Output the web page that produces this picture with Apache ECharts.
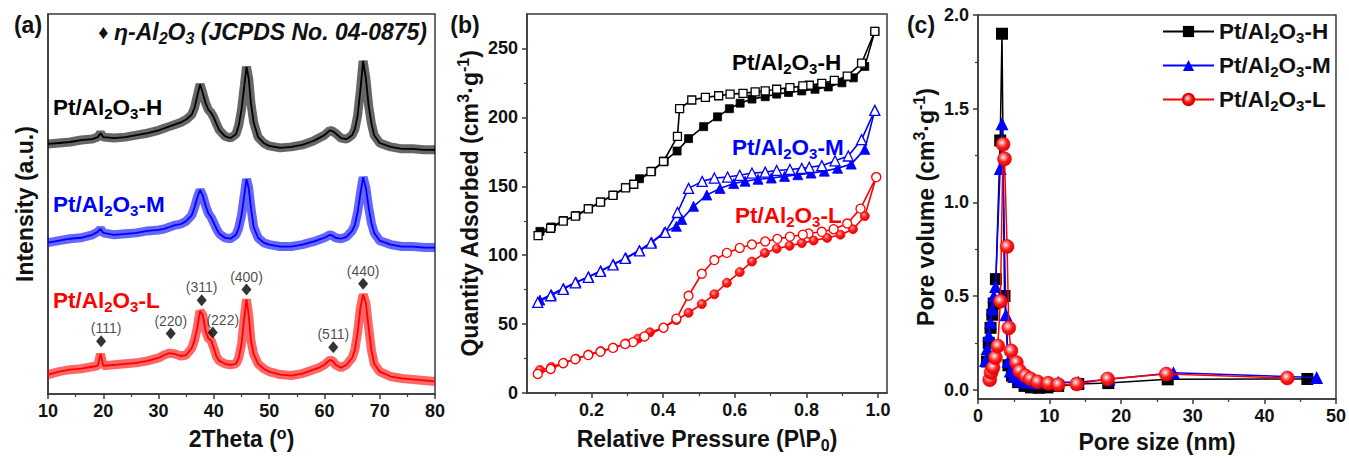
<!DOCTYPE html>
<html><head><meta charset="utf-8">
<script src="https://cdn.jsdelivr.net/npm/echarts@6/dist/echarts.min.js"></script>
<style>html,body{margin:0;padding:0;background:#fff}#c{width:1349px;height:458px}</style>
</head><body><div id="c"></div>
<script>
// ================= DATA =================
// (a) XRD patterns, intensity in arbitrary units (stacked offsets as plotted)
const xrdTheta = [10,12,14,16,18,19,19.5,20,22,24,26,28,30,31,32,33,34,35,36,36.5,37,37.5,38,38.5,39,39.5,40,40.5,41,42,43,44,44.5,45,45.5,45.9,46.3,46.7,47.2,48,49,50,52,54,56,58,59,60,61,61.5,62,63,64,65,65.5,66,66.5,67,67.5,68,68.5,69,70,72,74,76,78,80];
const xrdH = [256,257,258,260,261,263,267,263,262,263,265,267,270,272,274,276,278,281,286,293,305,317,308,298,291,288,283,276,270,264,262,266,275,291,315,335,323,298,278,263,257,254,252,253,255,259,262,265,270,269,267,262,261,265,271,285,311,341,323,295,277,265,257,253,251,251,250,250];
const xrdM = [155,157,159,160,163,166,169,165,163,164,165,167,168,169,171,173,174,177,183,191,201,209,203,193,185,181,175,169,164,160,159,163,170,183,203,220,211,191,171,160,155,153,151,151,153,156,158,160,163,162,160,159,161,167,173,186,205,222,211,191,175,165,157,153,151,151,150,150];
const xrdL = [20,23,25,26,28,29,41,29,30,31,32,34,37,40,42,41,39,40,47,55,68,85,81,65,57,55,47,38,34,31,30,31,37,51,78,97,81,55,41,31,26,23,20,19,21,25,27,30,35,34,30,27,30,37,45,63,88,102,93,68,45,31,23,18,16,15,14,13];
const hklTheta = [19.6, 32.2, 37.8, 39.8, 45.9, 61.6, 67.0];
const hklHeight = [54, 62, 96, 63, 107, 48, 113];
const hklLabels = ['(111)','(220)','(311)','(222)','(400)','(511)','(440)'];
const xrdTicks = [10,20,30,40,50,60,70,80];

// (b) N2 isotherms: relative pressure / quantity adsorbed
const hAdsP = [0.056,0.088,0.122,0.157,0.192,0.226,0.261,0.296,0.334,0.368,0.403,0.439,0.471,0.513,0.552,0.585,0.615,0.648,0.685,0.717,0.750,0.787,0.824,0.861,0.899,0.931,0.963,0.991];
const hAdsQ = [117.3,120.5,125.2,128.8,133.9,138.7,143.7,149.2,155.5,161.0,168.2,175.6,184.6,193.3,200.4,206.3,210.3,213.3,215.0,216.9,218.1,219.2,220.4,222.1,225.1,228.7,237.0,262.4];
const hDesP = [0.991,0.954,0.914,0.878,0.843,0.808,0.790,0.754,0.717,0.685,0.657,0.623,0.587,0.555,0.518,0.480,0.446,0.440,0.401,0.366,0.318,0.295,0.260,0.225,0.191,0.155,0.121,0.086,0.051];
const hDesQ = [262.4,239.3,229.9,226.8,224.7,223.3,222.8,221.6,220.4,219.2,218.5,217.4,216.9,215.7,214.5,212.6,206.3,186.2,168.0,160.7,151.5,148.9,143.5,138.5,133.6,128.4,124.8,119.6,114.2];
const mAdsP = [0.056,0.088,0.122,0.157,0.192,0.226,0.261,0.296,0.334,0.368,0.403,0.437,0.452,0.485,0.522,0.559,0.597,0.629,0.665,0.702,0.739,0.776,0.813,0.850,0.887,0.925,0.963,0.991];
const mAdsQ = [67.5,71.5,76.0,80.5,84.5,88.8,93.5,98.2,103.6,109.5,116.5,121.0,126.0,135.5,143.7,148.5,152.0,153.7,155.1,156.0,157.2,158.4,159.6,161.0,163.1,166.1,176.8,205.1];
const mDesP = [0.991,0.954,0.917,0.880,0.843,0.808,0.787,0.754,0.717,0.685,0.648,0.614,0.580,0.543,0.509,0.471,0.440,0.406,0.366,0.334,0.294,0.260,0.225,0.191,0.155,0.121,0.086,0.050];
const mDesQ = [205.1,183.9,172.0,168.5,165.0,163.8,163.0,162.2,161.5,160.3,159.6,158.0,156.7,156.0,153.6,148.5,131.0,116.6,108.8,103.1,97.7,93.0,88.3,84.0,80.0,75.3,70.6,65.8];
const lAdsP = [0.056,0.088,0.122,0.157,0.192,0.226,0.261,0.296,0.330,0.363,0.401,0.437,0.471,0.508,0.543,0.578,0.614,0.648,0.684,0.717,0.753,0.787,0.820,0.858,0.895,0.930,0.963,0.995];
const lAdsQ = [16.8,19.0,22.0,25.0,28.0,30.5,33.0,36.0,39.5,44.1,47.4,52.9,58.3,64.6,71.7,80.0,87.8,95.4,101.7,104.8,106.9,108.8,110.7,112.6,114.9,118.9,128.4,156.7];
const lDesP = [0.995,0.951,0.914,0.876,0.843,0.806,0.790,0.754,0.719,0.685,0.648,0.614,0.578,0.543,0.508,0.471,0.437,0.401,0.348,0.316,0.294,0.260,0.225,0.191,0.155,0.121,0.086,0.050];
const lDesQ = [156.7,133.8,123.0,118.9,117.0,115.8,114.9,113.5,111.9,110.0,107.8,105.3,101.7,96.5,86.6,70.6,54.0,47.4,41.1,37.0,35.6,32.8,30.0,27.6,24.6,21.7,17.5,13.9];
const isoPTicks = [0.2,0.4,0.6,0.8,1.0];
const isoPMinor = [0.1,0.3,0.5,0.7,0.9];
const isoQTicks = [0,50,100,150,200,250];
const isoQMinor = [25,75,125,175,225];

// (c) pore size distribution
const hPoreD = [1.25,1.5,1.75,2.0,2.2,2.5,3.1,3.35,3.7,4.25,4.75,5.6,6.5,7.4,8.5,9.7,11.2,14.0,18.2,26.5,46.0];
const hPoreV = [0.15,0.25,0.33,0.40,0.46,0.59,1.33,1.90,0.50,0.13,0.075,0.04,0.02,0.012,0.01,0.012,0.02,0.03,0.035,0.055,0.057];
const mPoreD = [1.05,1.28,1.5,1.75,1.97,2.2,2.45,3.1,3.35,3.9,4.2,4.5,5.0,5.8,6.8,8.0,9.9,11.2,14.0,18.3,27.3,47.3];
const mPoreV = [0.155,0.22,0.29,0.36,0.43,0.50,0.55,1.18,1.42,0.40,0.15,0.10,0.07,0.05,0.04,0.035,0.04,0.04,0.04,0.055,0.09,0.065];
const lPoreD = [1.64,1.83,2.1,2.43,2.76,3.13,3.5,3.7,4.06,4.3,4.6,5.35,5.8,6.6,7.3,8.3,9.8,11.2,13.8,18.1,26.3,43.2];
const lPoreV = [0.053,0.092,0.118,0.171,0.233,0.472,1.31,1.232,0.764,0.33,0.207,0.145,0.10,0.074,0.058,0.042,0.034,0.027,0.03,0.057,0.083,0.062];
const poreDTicks = [0,10,20,30,40,50];
const poreDMinor = [5,15,25,35,45];
const poreVTicks = [0,0.5,1.0,1.5,2.0];
const poreVMinor = [0.25,0.75,1.25,1.75];

const sampleNames = ['Pt/Al2O3-H','Pt/Al2O3-M','Pt/Al2O3-L'];

// ================= STYLE / BUILD =================
const FONT = '"Liberation Sans", Arial, Helvetica, sans-serif';
const AX = '#3a3a3a';
const TXT = '#111';
const BLACK = '#000000', BLUE = '#0000ff', RED = '#ff0000';
const zip = (a, b) => a.map((v, i) => [v, b[i]]);

function rich(size, color, italic) {
  const base = {fontWeight:'bold', fontFamily:FONT, color:color, fill:color, fontStyle: italic ? 'italic' : 'normal'};
  const s = Math.round(size * 0.68);
  return {
    n: Object.assign({}, base, {fontSize:size, lineHeight:size}),
    sub: Object.assign({}, base, {fontSize:s, lineHeight:s, padding:[Math.round(size*0.55),0,0,0]}),
    sup: Object.assign({}, base, {fontSize:s, lineHeight:s, padding:[0,0,Math.round(size*0.5),0]}),
    d: Object.assign({}, base, {fontSize:Math.round(size*0.85), lineHeight:size, fontStyle:'normal'})
  };
}
// "Pt/Al2O3-H" -> rich string with subscripts for digits
function subName(s) {
  return s.split(/(\d)/).filter(t => t !== '').map(t => /^\d$/.test(t) ? '{sub|' + t + '}' : '{n|' + t + '}').join('');
}

const nameStyle = (sz) => ({fontSize:sz, fontWeight:'bold', fontFamily:FONT, color:TXT, rich: rich(sz, TXT)});
const labelStyle = {fontSize:18, fontWeight:'bold', fontFamily:FONT, color:TXT};

function xAxes(gi, min, max, majors, minors, fmt, name, gap) {
  return [{
    type:'value', gridIndex:gi, min:min, max:max, position:'bottom',
    axisLine:{show:true, onZero:false, lineStyle:{color:AX, width:1.5}},
    axisTick:{show:true, inside:false, length:5, customValues:majors, lineStyle:{color:AX, width:1.5}},
    axisLabel:Object.assign({customValues:majors, formatter:fmt, margin:8}, labelStyle),
    splitLine:{show:false},
    name:name, nameLocation:'middle', nameGap:gap, nameTextStyle:nameStyle(23)
  },{
    type:'value', gridIndex:gi, min:min, max:max, position:'bottom',
    axisLine:{show:false, onZero:false},
    axisTick:{show:true, inside:false, length:3, customValues:minors, lineStyle:{color:AX, width:1.2}},
    axisLabel:{show:false}, splitLine:{show:false}
  }];
}
function yAxes(gi, min, max, majors, minors, fmt, name, gap) {
  const withTicks = majors && majors.length;
  const arr = [{
    type:'value', gridIndex:gi, min:min, max:max, position:'left',
    axisLine:{show:true, onZero:false, lineStyle:{color:AX, width:1.5}},
    axisTick:withTicks ? {show:true, inside:false, length:5, customValues:majors, lineStyle:{color:AX, width:1.5}} : {show:false},
    axisLabel:withTicks ? Object.assign({customValues:majors, formatter:fmt, margin:9}, labelStyle) : {show:false},
    splitLine:{show:false},
    name:name, nameLocation:'middle', nameGap:gap, nameTextStyle:nameStyle(23)
  }];
  if (minors) arr.push({
    type:'value', gridIndex:gi, min:min, max:max, position:'left',
    axisLine:{show:false, onZero:false},
    axisTick:{show:true, inside:false, length:3, customValues:minors, lineStyle:{color:AX, width:1.2}},
    axisLabel:{show:false}, splitLine:{show:false}
  });
  return arr;
}

const gridBox = {show:true, borderColor:AX, borderWidth:1.5, backgroundColor:'transparent', containLabel:false};

const xAxis = [].concat(
  xAxes(0, 10, 80, xrdTicks, [15,25,35,45,55,65,75], v => String(v), '{n|2Theta (}{sup|o}{n|)}', 30),
  xAxes(1, 0.02, 1.025, isoPTicks, isoPMinor, v => v.toFixed(1), '{n|Relative Pressure (P\\P}{sub|0}{n|)}', 28),
  xAxes(2, 0, 50, poreDTicks, poreDMinor, v => String(v), '{n|Pore size (nm)}', 31)
);
const yAxis = [].concat(
  yAxes(0, 0, 389, null, null, null, '{n|Intensity (a.u.)}', 12),
  yAxes(1, 0, 275, isoQTicks, isoQMinor, v => String(v), '{n|Quantity Adsorbed (cm}{sup|3}{n|·g}{sup|-1}{n|)}', 46),
  yAxes(2, -0.05, 2.0, poreVTicks, poreVMinor, v => v.toFixed(1), '{n|Pore volume (cm}{sup|3}{n|·g}{sup|-1}{n|)}', 41)
);
// axis index map: grid0 -> x0,y0 ; grid1 -> x2,y1 ; grid2 -> x4,y3

const series = [];
// ---- (a) XRD: noisy band + core line ----
[[xrdH, BLACK], [xrdM, BLUE], [xrdL, RED]].forEach(([vals, col], i) => {
  const d = zip(xrdTheta, vals);
  series.push({type:'line', name:sampleNames[i] + ' XRD band', xAxisIndex:0, yAxisIndex:0, data:d,
    symbol:'none', silent:true, lineStyle:{color:col, width:9, opacity:0.6}, z:2});
  series.push({type:'line', name:sampleNames[i] + ' XRD', xAxisIndex:0, yAxisIndex:0, data:d,
    symbol:'none', lineStyle:{color:col, width:1.8}, z:3});
});
const hklOffset = {'(111)':[5,0], '(222)':[10,0]};
series.push({type:'scatter', name:'η-Al2O3 reflections', xAxisIndex:0, yAxisIndex:0,
  data: hklTheta.map((t, i) => ({value:[t, hklHeight[i]], name:hklLabels[i],
    label:{offset: hklOffset[hklLabels[i]] || [0,0]}})),
  symbol:'diamond', symbolSize:[10,12], itemStyle:{color:'#000'}, z:5,
  label:{show:true, position:'top', distance:0, formatter:p => p.name, fontSize:14, fontFamily:FONT, color:'#1a1a1a'}});

// ---- (b) isotherms ----
const ballB = new echarts.graphic.RadialGradient(0.4, 0.35, 0.7, [
  {offset:0, color:'#ffb0b0'}, {offset:0.45, color:'#ff2020'}, {offset:1, color:'#e00000'}]);
function iso(name, p, q, sym, size, col, filled, fillColor) {
  return {type:'line', name:name, xAxisIndex:2, yAxisIndex:1, data:zip(p, q),
    symbol:sym, symbolSize:size, showSymbol:true,
    lineStyle:{color:col, width:1.6},
    itemStyle: filled ? {color: fillColor || col, borderColor:col, borderWidth:0.8}
                      : {color:'#fff', borderColor:col, borderWidth:1.3},
    z: filled ? 3 : 4};
}
series.push(iso('Pt/Al2O3-H adsorption', hAdsP, hAdsQ, 'rect', 8, BLACK, true));
series.push(iso('Pt/Al2O3-H desorption', hDesP, hDesQ, 'rect', 8, BLACK, false));
series.push(iso('Pt/Al2O3-M adsorption', mAdsP, mAdsQ, 'triangle', 10, BLUE, true));
series.push(iso('Pt/Al2O3-M desorption', mDesP, mDesQ, 'triangle', 10, BLUE, false));
series.push(iso('Pt/Al2O3-L adsorption', lAdsP, lAdsQ, 'circle', 9, RED, true, ballB));
series.push(iso('Pt/Al2O3-L desorption', lDesP, lDesQ, 'circle', 9, RED, false));

// ---- (c) pore size distribution ----
const ballC = new echarts.graphic.RadialGradient(0.42, 0.38, 0.65, [
  {offset:0, color:'#ffffff'}, {offset:0.22, color:'#ff9a9a'}, {offset:0.55, color:'#ff1a1a'}, {offset:1, color:'#dd0000'}]);
[[hPoreD, hPoreV, 'rect', 12, BLACK, BLACK], [mPoreD, mPoreV, 'triangle', 13, BLUE, BLUE], [lPoreD, lPoreV, 'circle', 14, RED, ballC]]
  .forEach(([d, v, sym, sz, col, fill], i) => {
    series.push({type:'line', name:sampleNames[i], xAxisIndex:4, yAxisIndex:3, data:zip(d, v),
      symbol:sym, symbolSize:sz, showSymbol:true,
      lineStyle:{color:col, width:1.5}, itemStyle:{color:fill, borderColor: i === 2 ? '#e00000' : col, borderWidth: i === 2 ? 0.5 : 0}, z:3 + i});
  });

// ---- annotations ----
function txt(x, y, text, size, color, align, italic) {
  return {type:'text', x:x, y:y, silent:true, z:100,
    style:{text:text, rich:rich(size, color, italic), fill:color, fontSize:size, fontWeight:'bold', fontFamily:FONT,
      align:align || 'left', verticalAlign:'middle', textAlign:align || 'left', textVerticalAlign:'middle'}};
}
const graphic = [
  txt(28, 25, '{n|(a)}', 23, TXT, 'center'),
  txt(465, 25, '{n|(b)}', 23, TXT, 'center'),
  txt(921, 25, '{n|(c)}', 23, TXT, 'center'),
  txt(427, 32, '{d|♦ }{n|η-Al}{sub|2}{n|O}{sub|3}{n| (JCPDS No. 04-0875)}', 23, TXT, 'right', true),
  txt(53, 107, subName(sampleNames[0]), 22.5, BLACK, 'left'),
  txt(53, 204, subName(sampleNames[1]), 22.5, BLUE, 'left'),
  txt(53, 300, subName(sampleNames[2]), 22.5, RED, 'left'),
  txt(732, 62, subName(sampleNames[0]), 22.5, BLACK, 'left'),
  txt(732, 147, subName(sampleNames[1]), 22.5, BLUE, 'left'),
  txt(735, 215, subName(sampleNames[2]), 22.5, RED, 'left')
];

const chart = echarts.init(document.getElementById('c'), null, {renderer:'svg', width:1349, height:458});
chart.setOption({
  animation:false,
  backgroundColor:'#ffffff',
  grid:[
    Object.assign({left:48, top:14, width:387, height:389}, gridBox),
    Object.assign({left:527, top:14, width:360, height:389}, gridBox),
    Object.assign({left:978, top:15, width:359, height:388}, gridBox)
  ],
  xAxis:xAxis,
  yAxis:yAxis,
  legend:{
    data:sampleNames, orient:'vertical', left:1162, top:18, padding:0, itemGap:7,
    itemWidth:51, itemHeight:14, align:'left',
    formatter:name => subName(name),
    textStyle:{fontSize:22.5, fontWeight:'bold', fontFamily:FONT, color:TXT, rich:rich(22.5, TXT)}
  },
  graphic:graphic,
  series:series
});
</script>
</body></html>
